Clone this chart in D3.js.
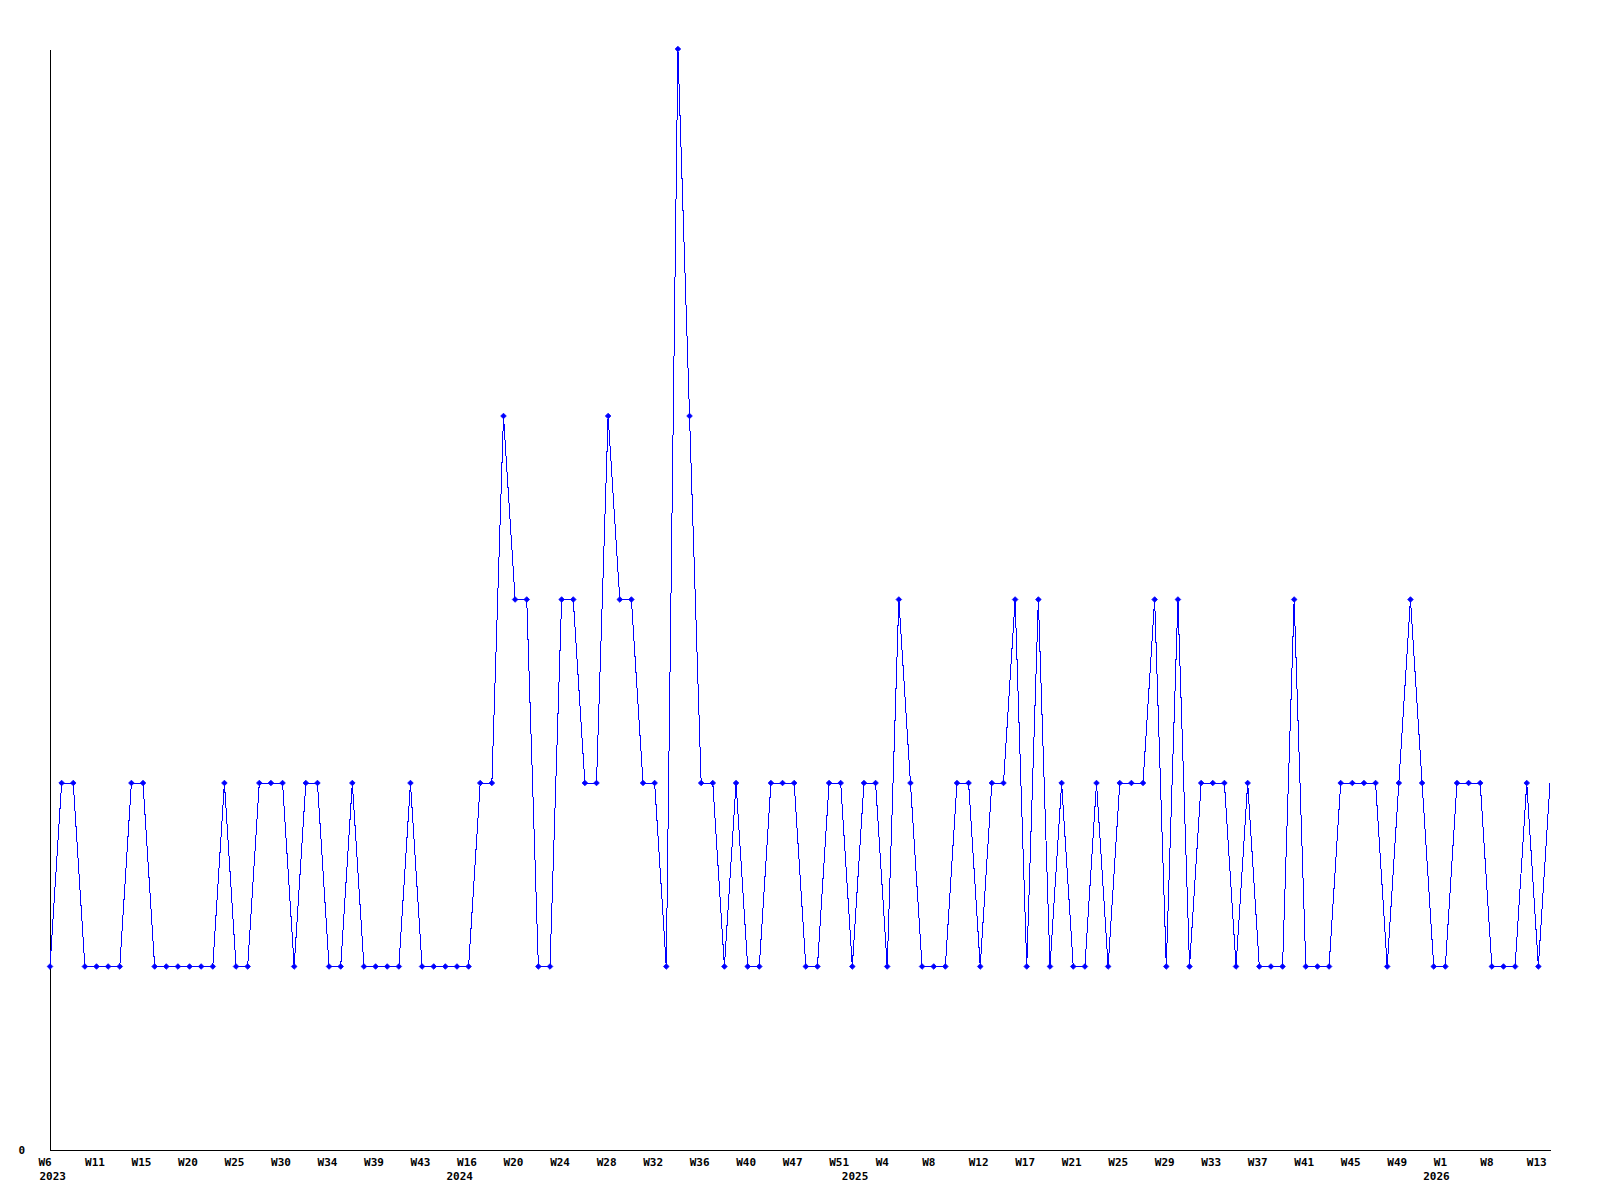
<!DOCTYPE html>
<html>
<head>
<meta charset="utf-8">
<script src="https://cdn.jsdelivr.net/npm/d3@7"></script>
<style>
  html, body { margin: 0; padding: 0; background: #ffffff; }
  svg { display: block; }
  .axis text { font-family: "DejaVu Sans Mono", monospace; font-weight: bold; font-size: 11px; fill: #000; }
</style>
</head>
<body>
<svg id="chart" width="1600" height="1200"></svg>
<script>
// ---- data ----
const values = [
  1,2,2,1,1,1,1,2,2,1,
  1,1,1,1,1,2,1,1,2,2,
  2,1,2,2,1,1,2,1,1,1,
  1,2,1,1,1,1,1,2,2,4,
  3,3,1,1,3,3,2,2,4,3,
  3,2,2,1,6,4,2,2,1,2,
  1,1,2,2,2,1,1,2,2,1,
  2,2,1,3,2,1,1,1,2,2,
  1,2,2,3,1,3,1,2,1,1,
  2,1,2,2,2,3,1,3,1,2,
  2,2,1,2,1,1,1,3,1,1,
  1,2,2,2,2,1,2,3,2,1,
  1,2,2,2,1,1,1,2,1,2
];
const weekLabels = ["W6","W11","W15","W20","W25","W30","W34","W39","W43","W16","W20",
  "W24","W28","W32","W36","W40","W47","W51","W4","W8","W12","W17","W21","W25","W29",
  "W33","W37","W41","W45","W49","W1","W8","W13"];
const weekLabelStep = 4;
const yearLabels = ["2023","2024","2025","2026"];
const yearIndex = [0, 35, 69, 119];
const yTickValues = [0];
const yMax = 6;

(function () {
  const svg = d3.select("#chart");
  const mLeft = 50, mRight = 1550, mTop = 49, mBottom = 1150;

  const x = d3.scaleLinear().domain([0, values.length - 1]).range([mLeft, mRight]);
  const y = d3.scaleLinear().domain([0, yMax]).range([mBottom, mTop]);

  // x axis: week labels
  const weekTicks = weekLabels.map((_, i) => i * weekLabelStep);
  const xAxis = d3.axisBottom(x)
    .tickValues(weekTicks)
    .tickFormat((d, i) => weekLabels[i])
    .tickSize(0)
    .tickSizeOuter(0);
  const gx = svg.append("g").attr("class", "axis").attr("transform", `translate(0,${mBottom})`).call(xAxis);
  gx.select(".domain").attr("stroke", "#000").attr("shape-rendering", "crispEdges");
  gx.selectAll(".tick text").attr("text-anchor", "start").attr("x", -12).attr("y", 16).attr("dy", 0);

  // x axis: year labels (second row)
  const yearAxis = d3.axisBottom(x)
    .tickValues(yearIndex)
    .tickFormat((d, i) => yearLabels[i])
    .tickSize(0)
    .tickSizeOuter(0);
  const gyr = svg.append("g").attr("class", "axis").attr("transform", `translate(0,${mBottom})`).call(yearAxis);
  gyr.select(".domain").remove();
  gyr.selectAll(".tick text").attr("text-anchor", "start").attr("x", -11).attr("y", 30).attr("dy", 0);

  // y axis
  const yAxis = d3.axisLeft(y).tickValues(yTickValues).tickFormat(d3.format("d"))
    .tickSize(0).tickSizeOuter(0).tickPadding(25);
  const gy = svg.append("g").attr("class", "axis").attr("transform", `translate(${mLeft},0)`).call(yAxis);
  gy.select(".domain").attr("stroke", "#000").attr("shape-rendering", "crispEdges");
  gy.selectAll(".tick text").attr("dy", "0.36em");

  // line
  const line = d3.line().x((d, i) => x(i)).y(d => y(d));
  svg.append("path")
    .datum(values)
    .attr("fill", "none")
    .attr("stroke", "#0000ff")
    .attr("stroke-width", 1)
    .attr("shape-rendering", "crispEdges")
    .attr("d", line);

  // markers (last point drawn without marker, as in the reference)
  const diamond = "M0,-2.8L2.8,0L0,2.8L-2.8,0Z";
  svg.append("g").selectAll("path")
    .data(values.slice(0, values.length - 1))
    .join("path")
    .attr("d", diamond)
    .attr("transform", (d, i) => `translate(${x(i)},${y(d)})`)
    .attr("fill", "#0000ff")
    .attr("stroke", "#0000ff")
    .attr("stroke-width", 0.8);
})();
</script>
</body>
</html>
